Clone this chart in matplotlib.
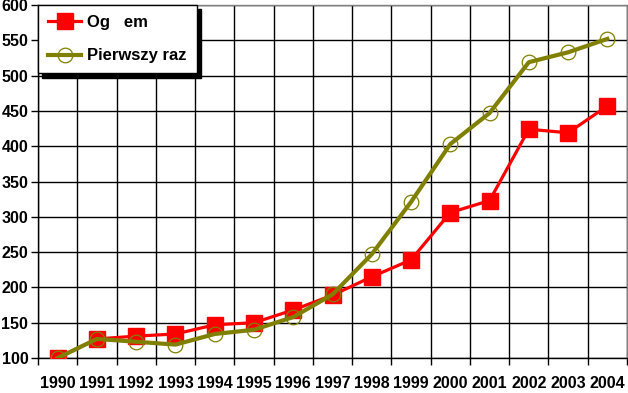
import numpy as np
import matplotlib
matplotlib.use("Agg")
import matplotlib.pyplot as plt

# ─────────────────────────────────────────────
# DATA
# ─────────────────────────────────────────────
YEARS       = ["1990", "1991", "1992", "1993", "1994", "1995", "1996", "1997",
               "1998", "1999", "2000", "2001", "2002", "2003", "2004"]
OGOLEM      = [100, 127, 131, 134, 147, 150, 168, 189, 215, 239, 306, 323, 424, 419, 457]
PIERWSZY    = [100, 127, 123, 119, 134, 140, 158, 190, 247, 321, 403, 447, 519, 533, 552]
LABEL_OG    = "Og   em"
LABEL_PIERW = "Pierwszy raz"
Y_TICKS     = [100, 150, 200, 250, 300, 350, 400, 450, 500, 550, 600]

plt.rcParams["font.family"] = ["Liberation Sans", "DejaVu Sans"]
plt.rcParams["font.weight"] = "bold"

fig = plt.figure(figsize=(6.28, 3.93), dpi=100)
ax = fig.add_axes([38 / 628, 35 / 393, 589 / 628, 353 / 393])

x = np.arange(len(YEARS))
ax.plot(x, OGOLEM, color="#ff0000", linewidth=2.3, marker="s", markersize=12,
        markerfacecolor="#ff0000", markeredgecolor="#ff0000", label=LABEL_OG, zorder=4)
ax.plot(x, PIERWSZY, color="#808000", linewidth=3.0, marker="o", markersize=10.5,
        markerfacecolor="none", markeredgecolor="#808000", markeredgewidth=0.9,
        label=LABEL_PIERW, zorder=5)

ax.set_xlim(-0.5, len(YEARS) - 0.5)
ax.set_ylim(100, 600)
ax.set_yticks(Y_TICKS)
ax.set_yticklabels([str(v) for v in Y_TICKS], fontsize=11.5, fontweight="bold")
ax.set_xticks(x)
ax.set_xticklabels(YEARS, fontsize=11.5, fontweight="bold")
ax.tick_params(axis="x", length=0, pad=13)
ax.tick_params(axis="y", length=5, width=1, pad=2)

# category boundary grid
ax.set_xticks(np.arange(-0.5, len(YEARS)), minor=True)
ax.tick_params(axis="x", which="minor", length=5, width=1)
ax.grid(True, which="minor", axis="x", color="black", linewidth=1)
ax.grid(True, which="major", axis="y", color="black", linewidth=1)

for side in ["left", "bottom"]:
    ax.spines[side].set_color("black")
    ax.spines[side].set_linewidth(1)
for side in ["top", "right"]:
    ax.spines[side].set_color("#808080")
    ax.spines[side].set_linewidth(1)

leg = ax.legend(loc="upper left", bbox_to_anchor=(0.0, 1.0),
                frameon=True, fancybox=False, edgecolor="black", framealpha=1,
                shadow={"color": "black", "alpha": 1, "ox": 3, "oy": -3},
                borderpad=0.6, labelspacing=1.1, handlelength=2.0, handletextpad=0.35,
                borderaxespad=0.0, prop={"weight": "bold", "size": 12})
leg.get_frame().set_linewidth(1)

fig.savefig("out.png", dpi=100)
